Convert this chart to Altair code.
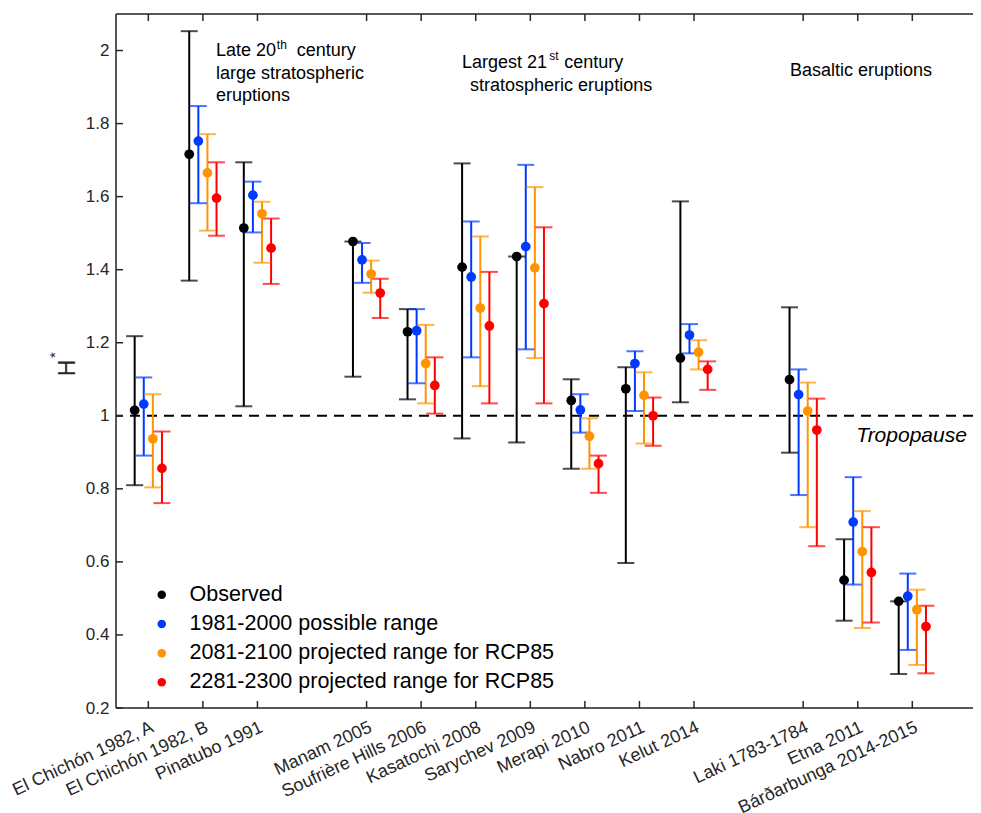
import json
import altair as alt
import pandas as pd

# ---------------- data ----------------
eruptions = ["El Chichón 1982, A", "El Chichón 1982, B", "Pinatubo 1991",
             "Manam 2005", "Soufrière Hills 2006", "Kasatochi 2008", "Sarychev 2009",
             "Merapi 2010", "Nabro 2011", "Kelut 2014",
             "Laki 1783-1784", "Etna 2011", "Bárðarbunga 2014-2015"]
positions = [1, 2, 3, 5, 6, 7, 8, 9, 10, 11, 13, 14, 15]

series = ["Observed", "1981-2000 possible range",
          "2081-2100 projected range for RCP85", "2281-2300 projected range for RCP85"]
colors = ["#000000", "#0039FF", "#FF9400", "#FF0000"]
offsets = [-0.25, -0.0833, 0.0833, 0.25]

obs_mid = [1.015, 1.716, 1.514, 1.477, 1.230, 1.407, 1.436, 1.042, 1.074, 1.158, 1.099, 0.550, 0.492]
obs_low = [0.810, 1.370, 1.026, 1.107, 1.045, 0.938, 0.927, 0.855, 0.597, 1.037, 0.899, 0.439, 0.293]
obs_high = [1.218, 2.053, 1.694, 1.477, 1.292, 1.691, 1.436, 1.100, 1.133, 1.587, 1.297, 0.662, 0.492]

hist_mid = [1.032, 1.752, 1.604, 1.427, 1.233, 1.380, 1.463, 1.016, 1.143, 1.221, 1.058, 0.709, 0.506]
hist_low = [0.891, 1.582, 1.502, 1.364, 1.089, 1.160, 1.182, 0.954, 1.013, 1.171, 0.783, 0.538, 0.359]
hist_high = [1.105, 1.848, 1.641, 1.473, 1.292, 1.532, 1.687, 1.059, 1.177, 1.251, 1.127, 0.832, 0.568]

c21_mid = [0.937, 1.665, 1.553, 1.388, 1.143, 1.295, 1.405, 0.944, 1.056, 1.174, 1.013, 0.628, 0.469]
c21_low = [0.804, 1.507, 1.419, 1.337, 1.034, 1.081, 1.158, 0.855, 0.924, 1.127, 0.695, 0.419, 0.318]
c21_high = [1.059, 1.771, 1.586, 1.425, 1.249, 1.491, 1.626, 0.993, 1.119, 1.207, 1.091, 0.739, 0.524]

c23_mid = [0.856, 1.596, 1.459, 1.336, 1.083, 1.246, 1.307, 0.869, 1.000, 1.127, 0.961, 0.571, 0.423]
c23_low = [0.761, 1.493, 1.361, 1.268, 1.006, 1.034, 1.034, 0.789, 0.918, 1.071, 0.643, 0.434, 0.295]
c23_high = [0.957, 1.694, 1.540, 1.375, 1.160, 1.394, 1.516, 0.891, 1.050, 1.149, 1.047, 0.695, 0.480]

mids = [obs_mid, hist_mid, c21_mid, c23_mid]
lows = [obs_low, hist_low, c21_low, c23_low]
highs = [obs_high, hist_high, c21_high, c23_high]

y_ticks = [0.2, 0.4, 0.6, 0.8, 1.0, 1.2, 1.4, 1.6, 1.8, 2.0]
tropopause = 1.0

# annotation texts (x, y in data units)
ann_text = ["Late 20", "century", "large stratospheric", "eruptions",
            "Largest 21", "century", "stratospheric eruptions", "Basaltic eruptions"]
ann_x = [2.241, 3.72, 2.241, 2.241, 6.749, 8.62, 6.896, 12.759]
ann_y = [1.986, 1.986, 1.923, 1.862, 1.953, 1.953, 1.890, 1.929]
sup_text = ["th", "st"]
sup_x = [3.355, 8.345]
sup_y = [2.005, 1.973]

# ---------------- tables ----------------
rows = []
for i, s in enumerate(series):
    for j, name in enumerate(eruptions):
        rows.append({"series": s, "order": i, "eruption": name,
                     "x": positions[j] + offsets[i],
                     "mid": mids[i][j], "low": lows[i][j], "high": highs[i][j]})
df = pd.DataFrame(rows)

W, H = 857, 694
X0, X1 = 0.408, 16.112
Y0, Y1 = 0.2, 2.1
AX = "#262626"
FONT = "Liberation Sans"

label_arr = [""] * 17
for p, n in zip(positions, eruptions):
    label_arr[p] = n
label_expr = json.dumps(label_arr, ensure_ascii=False) + "[datum.value]"

xscale = alt.Scale(domain=[X0, X1], nice=False, zero=False)
yscale = alt.Scale(domain=[Y0, Y1], nice=False, zero=False)

xaxis = alt.Axis(values=positions, labelExpr=label_expr, labelAngle=-25,
                 labelAlign="right", labelBaseline="top", ticks=False, domain=False,
                 grid=False, labelFontSize=18, labelPadding=10, labelOverlap=False,
                 labelFlush=False, labelLimit=400, labelColor=AX, title=None,
                 labelFont=FONT)
yaxis = alt.Axis(values=y_ticks, format="~g", ticks=False, domain=False, grid=False,
                 labelFontSize=17, labelPadding=7, labelColor=AX, title=None,
                 labelFont=FONT)

cscale = alt.Scale(domain=series, range=colors)
color = alt.Color("series:N", scale=cscale, sort=series, legend=None)
color_leg = alt.Color("series:N", scale=cscale, sort=series,
                      legend=alt.Legend(orient="none", legendX=35, legendY=570,
                                        title=None, labelFontSize=21.5, labelFont=FONT,
                                        labelColor="#000000", symbolType="circle",
                                        symbolSize=72, symbolStrokeWidth=0,
                                        rowPadding=6.2, labelOffset=17, padding=0,
                                        labelLimit=500))

base = alt.Chart(df)
X = alt.X("x:Q", scale=xscale, axis=xaxis)

bars = base.mark_rule(strokeWidth=2).encode(
    x=X, y=alt.Y("low:Q", scale=yscale, axis=yaxis), y2="high:Q", color=color)
caps_low = base.mark_tick(orient="horizontal", size=17, thickness=2).encode(
    x=X, y=alt.Y("low:Q", scale=yscale, axis=yaxis), color=color)
caps_high = base.mark_tick(orient="horizontal", size=17, thickness=2).encode(
    x=X, y=alt.Y("high:Q", scale=yscale, axis=yaxis), color=color)
points = base.mark_point(filled=True, size=95, opacity=1, shape="circle").encode(
    x=X, y=alt.Y("mid:Q", scale=yscale, axis=yaxis), color=color_leg)

trop = alt.Chart(pd.DataFrame({"v": [tropopause]})).mark_rule(
    strokeDash=[10, 7], strokeWidth=2, color="#000000").encode(
    y=alt.Y("v:Q", scale=yscale, axis=yaxis))

# frame (left, top, bottom) and inward ticks, MATLAB style
one = pd.DataFrame({"k": [0]})
frame_style = dict(color=AX, strokeWidth=1.5)
fl = alt.Chart(one).mark_rule(**frame_style).encode(
    x=alt.value(0), y=alt.value(0), y2=alt.value(H))
ft = alt.Chart(one).mark_rule(**frame_style).encode(
    x=alt.value(0), x2=alt.value(W), y=alt.value(0))
fb = alt.Chart(one).mark_rule(**frame_style).encode(
    x=alt.value(0), x2=alt.value(W), y=alt.value(H))

ytdf = pd.DataFrame({"v": y_ticks})
xtdf = pd.DataFrame({"p": positions})
lt = alt.Chart(ytdf).mark_rule(**frame_style).encode(
    y=alt.Y("v:Q", scale=yscale, axis=yaxis), x=alt.value(0), x2=alt.value(7))
bt = alt.Chart(xtdf).mark_rule(**frame_style).encode(
    x=alt.X("p:Q", scale=xscale, axis=xaxis), y=alt.value(H), y2=alt.value(H - 7))
tt = alt.Chart(xtdf).mark_rule(**frame_style).encode(
    x=alt.X("p:Q", scale=xscale, axis=xaxis), y=alt.value(0), y2=alt.value(7))

ann = alt.Chart(pd.DataFrame({"t": ann_text, "x": ann_x, "y": ann_y})).mark_text(
    align="left", baseline="alphabetic", fontSize=18, font=FONT, color="#000000").encode(
    x=alt.X("x:Q", scale=xscale, axis=xaxis), y=alt.Y("y:Q", scale=yscale, axis=yaxis),
    text="t:N")
sup = alt.Chart(pd.DataFrame({"t": sup_text, "x": sup_x, "y": sup_y})).mark_text(
    align="left", baseline="alphabetic", fontSize=12, font=FONT, color="#000000").encode(
    x=alt.X("x:Q", scale=xscale, axis=xaxis), y=alt.Y("y:Q", scale=yscale, axis=yaxis),
    text="t:N")
trop_lab = alt.Chart(pd.DataFrame({"t": ["Tropopause"], "x": [16.0], "y": [0.929]})).mark_text(
    align="right", baseline="alphabetic", fontSize=21, font=FONT, fontStyle="italic",
    color="#000000").encode(
    x=alt.X("x:Q", scale=xscale, axis=xaxis), y=alt.Y("y:Q", scale=yscale, axis=yaxis),
    text="t:N")

ytitle = alt.Chart(pd.DataFrame({"t": ["H"]})).mark_text(
    align="center", baseline="middle", angle=270, fontSize=23, font=FONT,
    color=AX).encode(x=alt.value(-48), y=alt.value(354), text="t:N")
ystar = alt.Chart(pd.DataFrame({"t": ["*"]})).mark_text(
    align="center", baseline="middle", angle=270, fontSize=15, font=FONT,
    color=AX).encode(x=alt.value(-61), y=alt.value(341), text="t:N")

chart = alt.layer(trop, bars, caps_low, caps_high, points, fl, ft, fb, lt, bt, tt,
                  ann, sup, trop_lab, ytitle, ystar).properties(
    width=W, height=H,
    autosize=alt.AutoSizeParams(type="none"),
    padding={"left": 108, "top": 6, "right": 0, "bottom": 105},
).resolve_legend(color="independent").configure_view(
    stroke=None).configure(font=FONT, background="white")

chart.save("out.html", embed_options={"renderer": "svg", "actions": False})
